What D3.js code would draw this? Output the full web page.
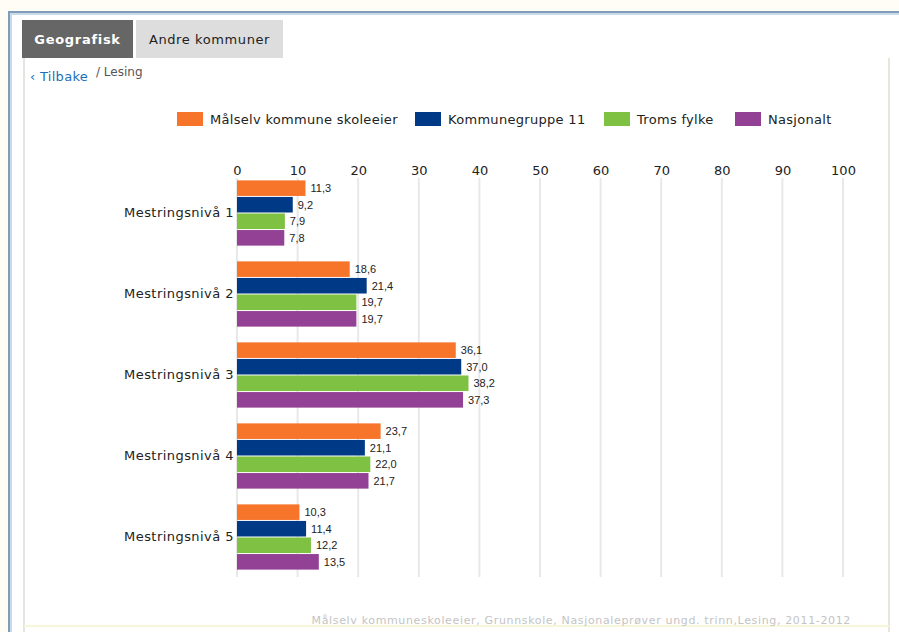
<!DOCTYPE html>
<html>
<head>
<meta charset="utf-8">
<script src="https://cdn.jsdelivr.net/npm/d3@7"></script>
<style>
  body { margin: 0; background: #fffdf6; }
  svg { display: block; font-family: "DejaVu Sans", Verdana, sans-serif; }
</style>
</head>
<body>
<svg id="chart" width="899" height="632"></svg>
<script>
const levels = ["Mestringsnivå 1", "Mestringsnivå 2", "Mestringsnivå 3", "Mestringsnivå 4", "Mestringsnivå 5"];
const seriesNames = ["Målselv kommune skoleeier", "Kommunegruppe 11", "Troms fylke", "Nasjonalt"];
const seriesColors = ["#f7742b", "#003a87", "#7fc142", "#934194"];
const malselv = [11.3, 18.6, 36.1, 23.7, 10.3];
const kommunegruppe = [9.2, 21.4, 37.0, 21.1, 11.4];
const troms = [7.9, 19.7, 38.2, 22.0, 12.2];
const nasjonalt = [7.8, 19.7, 37.3, 21.7, 13.5];
const xTicks = [0, 10, 20, 30, 40, 50, 60, 70, 80, 90, 100];
const footnote = "Målselv kommuneskoleeier, Grunnskole, Nasjonaleprøver ungd. trinn,Lesing, 2011-2012";

const values = [malselv, kommunegruppe, troms, nasjonalt];
const rows = levels.map((lvl, i) => ({
  level: lvl,
  bars: seriesNames.map((s, j) => ({ series: s, value: values[j][i], color: seriesColors[j] }))
}));

const svg = d3.select("#chart");

// page frame
svg.append("rect").attr("x", 0).attr("y", 0).attr("width", 899).attr("height", 632).attr("fill", "#fffdf6");
svg.append("rect").attr("x", 9).attr("y", 12).attr("width", 900).attr("height", 630)
  .attr("fill", "#ffffff").attr("stroke", "#7f9db9").attr("stroke-width", 2);
svg.append("line").attr("x1", 10).attr("x2", 899).attr("y1", 14).attr("y2", 14).attr("stroke", "#c9dbe9").attr("stroke-width", 2);
svg.append("line").attr("x1", 11).attr("x2", 11).attr("y1", 14).attr("y2", 632).attr("stroke", "#c9dbe9").attr("stroke-width", 2);

// inner panel
svg.append("line").attr("x1", 24).attr("x2", 24).attr("y1", 58).attr("y2", 632).attr("stroke", "#e4e4e0").attr("stroke-width", 2);
svg.append("line").attr("x1", 889).attr("x2", 889).attr("y1", 58).attr("y2", 632).attr("stroke", "#e6e6dc").attr("stroke-width", 2);
svg.append("line").attr("x1", 24).attr("x2", 889).attr("y1", 626).attr("y2", 626).attr("stroke", "#f6f6d8").attr("stroke-width", 2);

// tabs
svg.append("rect").attr("x", 22).attr("y", 20).attr("width", 111).attr("height", 38).attr("fill", "#666666");
svg.append("text").attr("x", 77.5).attr("y", 44).attr("text-anchor", "middle")
  .attr("fill", "#ffffff").attr("font-size", 13).attr("font-weight", "bold")
  .attr("letter-spacing", 0.7).text("Geografisk");
svg.append("rect").attr("x", 136).attr("y", 20).attr("width", 147).attr("height", 38).attr("fill", "#dddddd");
svg.append("text").attr("x", 209.5).attr("y", 44).attr("text-anchor", "middle")
  .attr("fill", "#222").attr("font-size", 13).attr("letter-spacing", 0.6).text("Andre kommuner");

// breadcrumb
svg.append("text").attr("x", 30).attr("y", 81).attr("fill", "#1a6fb8").attr("font-size", 13)
  .attr("letter-spacing", 0.3).text("‹ Tilbake");
svg.append("text").attr("x", 96).attr("y", 76).attr("fill", "#555").attr("font-size", 12)
  .text("/ Lesing");

// legend
const legendX = [177, 415, 604, 735];
const legend = svg.append("g").attr("id", "legend");
const li = legend.selectAll("g").data(seriesNames).join("g")
  .attr("transform", (d, i) => `translate(${legendX[i]}, 112)`);
li.append("rect").attr("width", 26).attr("height", 14).attr("fill", (d, i) => seriesColors[i]);
li.append("text").attr("x", 33).attr("y", 12).attr("font-size", 13).attr("fill", "#222")
  .attr("letter-spacing", 0.3).text(d => d);

// scales
const x = d3.scaleLinear().domain([0, 100]).range([237, 843]);
const y = d3.scaleBand().domain(levels).range([172.5, 577.5]).paddingInner(0.17).paddingOuter(0.085);
const ySub = d3.scaleBand().domain(seriesNames).range([0, y.bandwidth()]).padding(0.06);

// grid
svg.append("g").selectAll("line").data(xTicks).join("line")
  .attr("x1", d => x(d)).attr("x2", d => x(d))
  .attr("y1", 178).attr("y2", 577)
  .attr("stroke", "#e8e8e8").attr("stroke-width", 2);

// top axis labels
const xAxis = d3.axisTop(x).tickValues(xTicks).tickSize(0).tickPadding(0);
svg.append("g").attr("transform", "translate(0, 175)").call(xAxis)
  .call(g => g.select(".domain").remove())
  .call(g => g.selectAll("text").attr("font-size", 13).attr("fill", "#222")
    .attr("font-family", "DejaVu Sans, Verdana, sans-serif"));

// category labels
const yAxis = d3.axisLeft(y).tickSize(0).tickPadding(3);
svg.append("g").attr("transform", `translate(${x(0)}, 0)`).call(yAxis)
  .call(g => g.select(".domain").remove())
  .call(g => g.selectAll("text").attr("font-size", 13).attr("fill", "#222")
    .attr("letter-spacing", 0.45)
    .attr("font-family", "DejaVu Sans, Verdana, sans-serif"));

// bars
const groups = svg.append("g").selectAll("g").data(rows).join("g")
  .attr("transform", d => `translate(0, ${y(d.level)})`);
groups.selectAll("rect").data(d => d.bars).join("rect")
  .attr("x", x(0))
  .attr("y", d => ySub(d.series))
  .attr("width", d => x(d.value) - x(0))
  .attr("height", ySub.bandwidth())
  .attr("fill", d => d.color);
groups.selectAll("text").data(d => d.bars).join("text")
  .attr("x", d => x(d.value) + 5)
  .attr("y", d => ySub(d.series) + ySub.bandwidth() / 2 + 4)
  .attr("font-size", 11)
  .attr("font-family", "'Liberation Sans Narrow', 'Arial Narrow', 'Liberation Sans', sans-serif")
  .attr("fill", "#222")
  .text(d => d3.format(".1f")(d.value).replace(".", ","));

// footnote
svg.append("text").attr("x", 851).attr("y", 624).attr("text-anchor", "end")
  .attr("font-size", 11).attr("letter-spacing", 0.65).attr("fill", "#c4c4c4").text(footnote);
</script>
</body>
</html>
